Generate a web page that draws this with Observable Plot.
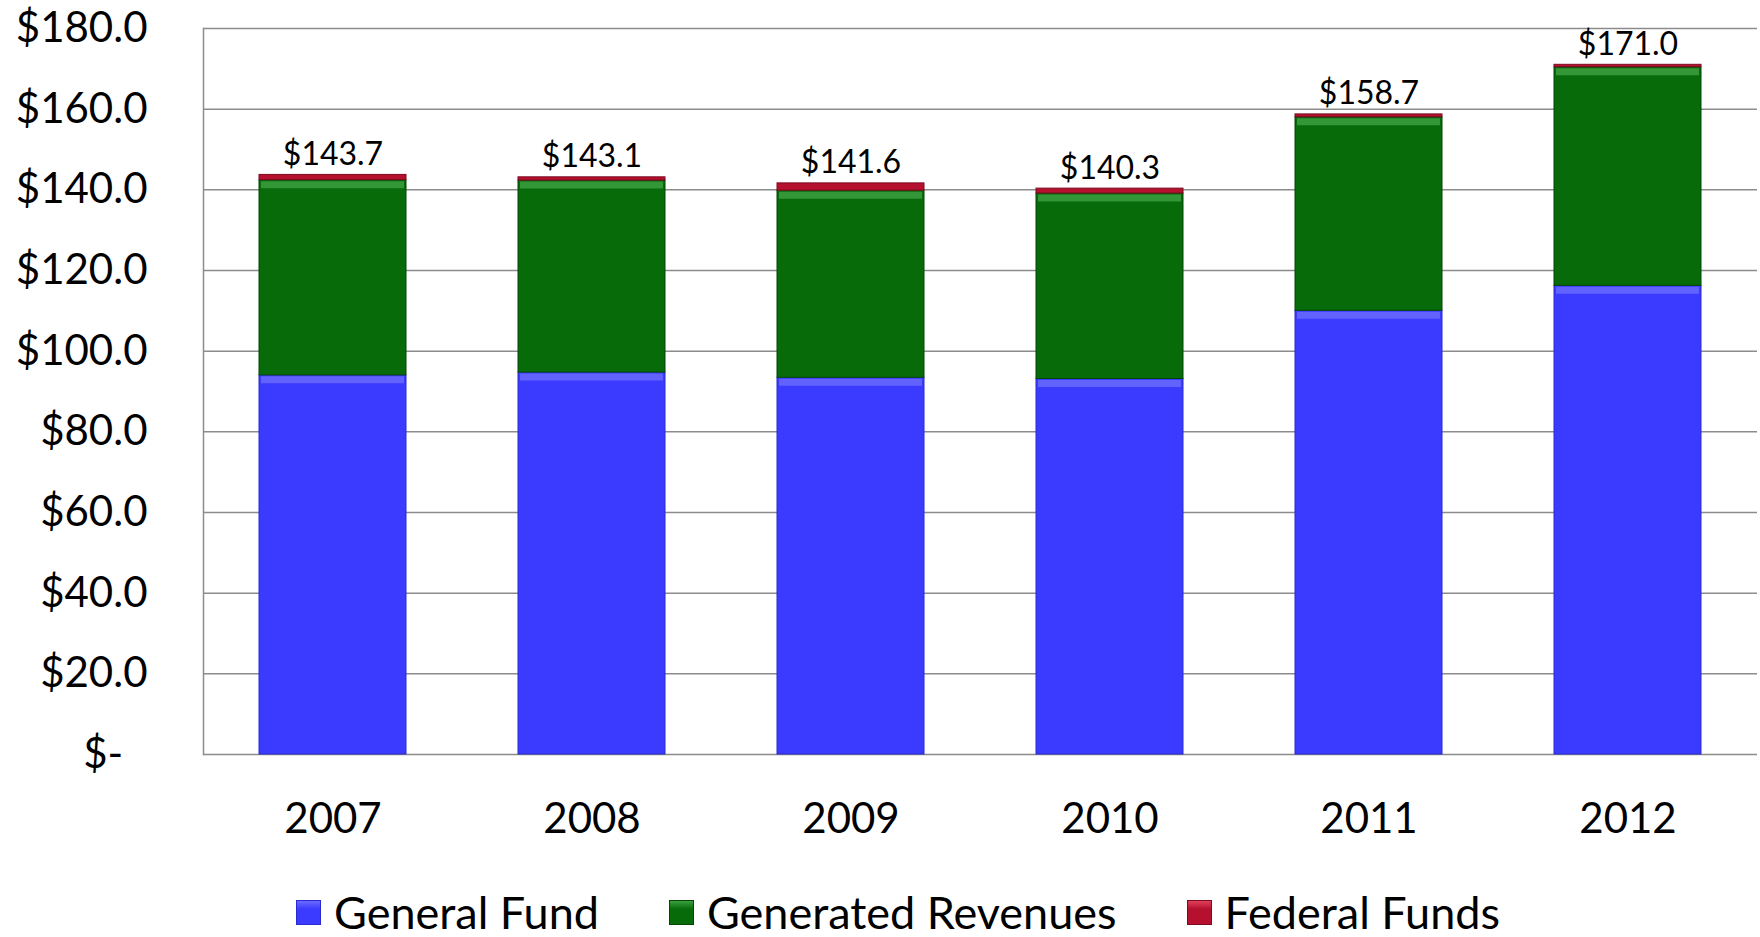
<!DOCTYPE html>
<html>
<head>
<meta charset="utf-8">
<script src="https://cdn.jsdelivr.net/npm/d3@7"></script>
<script src="https://cdn.jsdelivr.net/npm/@observablehq/plot@0.6"></script>
<style>
  html, body { margin: 0; padding: 0; background: white; }
  #chart svg { display: block; }
  #legend {
    display: flex; justify-content: center; align-items: center;
    height: 45px; padding-top: 10px; padding-left: 36px; gap: 70px;
    font-family: Lato, "Open Sans", sans-serif; font-size: 45px; line-height: 1; color: #000;
  }
  .item { display: flex; align-items: center; gap: 13px; }
  .sw { width: 25px; height: 25px; box-sizing: border-box; }
</style>
</head>
<body>
<div id="chart"></div>
<div id="legend"></div>
<script>
const years = ["2007", "2008", "2009", "2010", "2011", "2012"];
const generalFund = [94.0, 94.7, 93.4, 93.1, 110.0, 116.2];
const generatedRevenues = [48.4, 47.6, 46.4, 46.0, 48.0, 54.2];
const federalFunds = [1.3, 0.8, 1.8, 1.2, 0.7, 0.6];
const totals = [143.7, 143.1, 141.6, 140.3, 158.7, 171.0];
const seriesNames = ["General Fund", "Generated Revenues", "Federal Funds"];
const seriesColors = ["#3b3bff", "#076b0a", "#b5112f"];
const seriesEdges = ["#2a2ad0", "#034705", "#7d0a20"];
const seriesLights = ["#6a6aff", "#3b9e3f", "#e0405a"];
const yTicks = [0, 20, 40, 60, 80, 100, 120, 140, 160, 180];

const seriesValues = [generalFund, generatedRevenues, federalFunds];
const rows = [];
years.forEach((year, i) => {
  let base = 0;
  seriesValues.forEach((vals, s) => {
    const top = base + vals[i];
    rows.push({year, series: seriesNames[s], value: vals[i], top, s});
    base = top;
  });
});
const totalRows = years.map((year, i) => ({year, total: totals[i]}));

const fmt = d => d === 0 ? "$-\u2007" : "$" + d.toFixed(1);

const chart = Plot.plot({
  width: 1760,
  height: 880,
  marginLeft: 203,
  marginRight: 3,
  marginTop: 28,
  marginBottom: 126,
  style: {fontFamily: "Lato, 'Open Sans', sans-serif", background: "white", color: "#000"},
  x: {domain: years, paddingInner: 0.432, paddingOuter: 0.216, label: null},
  y: {domain: [0, 180], label: null},
  marks: [
    Plot.ruleY(yTicks, {stroke: "#8c8c8c", strokeWidth: 1.5}),
    Plot.frame({anchor: "left", stroke: "#8c8c8c", strokeWidth: 1.5}),
    Plot.barY(rows, Plot.stackY({
      x: "year", y: "value", order: seriesNames, z: "series",
      fill: d => seriesColors[d.s], stroke: d => seriesEdges[d.s], strokeWidth: 1
    })),
    Plot.tickY(rows.filter(d => d.s < 2), {
      x: "year", y: "top", stroke: d => seriesLights[d.s], strokeWidth: 7, dy: 4.5, inset: 2, strokeOpacity: 0.85
    }),
    Plot.text(totalRows, {
      x: "year", y: "total", text: d => "$" + d.total.toFixed(1),
      dy: -10, lineAnchor: "bottom", fontSize: 32, fill: "#000"
    }),
    Plot.axisY({ticks: yTicks, tickFormat: fmt, tickSize: 0, tickPadding: 56, fontSize: 42, label: null}),
    Plot.axisX({tickSize: 0, tickPadding: 49, fontSize: 42, label: null})
  ]
});
document.getElementById("chart").append(chart);

const legend = document.getElementById("legend");
seriesNames.forEach((name, i) => {
  const item = document.createElement("div");
  item.className = "item";
  const sw = document.createElement("div");
  sw.className = "sw";
  sw.style.background = `linear-gradient(to bottom, ${seriesLights[i]} 0%, ${seriesColors[i]} 35%, ${seriesColors[i]} 100%)`;
  sw.style.border = `1px solid ${seriesEdges[i]}`;
  const label = document.createElement("span");
  label.textContent = name;
  item.append(sw, label);
  legend.append(item);
});
</script>
</body>
</html>
